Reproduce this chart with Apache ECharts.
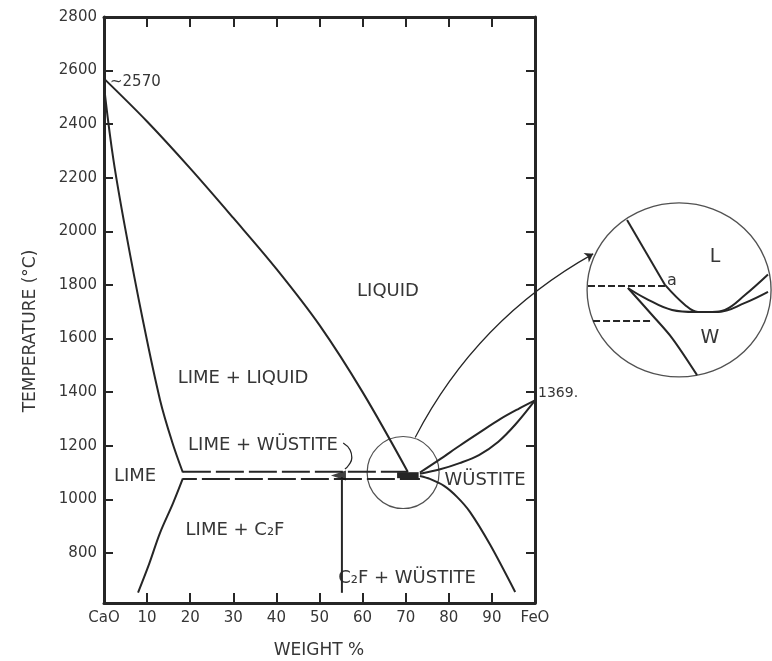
<!DOCTYPE html>
<html><head><meta charset="utf-8">
<script src="https://cdn.jsdelivr.net/npm/echarts@6/dist/echarts.min.js"></script>
<style>html,body{margin:0;padding:0;background:#fff}#c{width:772px;height:661px}</style>
</head><body><div id="c"></div>
<script>
// ---- tick values / labels ----
const xTickValues = [0,10,20,30,40,50,60,70,80,90,100];
const xTickLabels = ['CaO','10','20','30','40','50','60','70','80','90','FeO'];
const yTickValues = [800,1000,1200,1400,1600,1800,2000,2200,2400,2600,2800];
const yTickLabels = ['800','1000','1200','1400','1600','1800','2000','2200','2400','2600','2800'];

// ---- main diagram curves [wt% FeO, T °C] ----
const mainLiquidus = [[0,2570],[10,2410],[20,2235],[30,2050],[40,1860],[50,1650],[60,1400],[70.5,1102]];
const limeLiquidus = [[0,2570],[0.3,2500],[2.2,2266],[4.9,2013],[9.0,1670],[13.0,1371],[15.8,1215],[18.3,1100]];
const limeSolvus = [[18.3,1078],[16,985],[13,875],[10.5,760],[7.9,652]];
const eutecticUpper = [[18.3,1103],[70.5,1103]];
const eutecticLower = [[18.3,1076],[73.3,1076]];
const eutecticSolid = [[68,1090],[73,1090]];
const c2fLine = [[55.2,1082],[55.2,651]];
const c2fPoint = [[54.4,1089]];
const bracket = [[55.5,1210],[57.1,1184],[57.5,1155],[56.8,1128],[55.9,1113]];
const wusLiquidus = [[73.3,1100],[78,1150],[82.5,1200],[87,1248],[92,1300],[96,1336],[100,1369]];
const wusSolidus = [[73.3,1095],[78,1112],[82.5,1135],[87,1165],[91.5,1215],[95.5,1280],[100,1369]];
const wusSolvus = [[73.3,1087],[75.6,1076],[78.9,1050],[81.9,1009],[84.9,953],[89.6,830],[95.4,654]];
const zoomCircleCenter = [[69.4,1100]];
const arrowCoords = [[72.2,1231],[113.5,1916]];

// ---- enlarged inset (schematic units 0..100) ----
const insetCenter = [[50.6,48.9]];
const insetLiqLeft = [[21.7,87.8],[42.8,51.7]];
const insetLiquidus = [[42.8,51.7],[53.9,40.6],[61.1,36.7],[68.9,36.7],[76.1,37.8],[87.2,46.1],[100,57.5]];
const insetSolidus = [[22.2,50],[31.7,44.4],[46.7,37.8],[59.4,36.7],[72.2,36.7],[87.2,41.7],[100,47.8]];
const insetSolvus = [[22.2,50],[35.6,35],[46.7,22.2],[60.6,1.6]];
const insetDashUpper = [[0,51.1],[42.8,51.1]];
const insetDashLower = [[2.8,31.7],[36.1,31.7]];

const FONT = 'DejaVu Sans';
const INK = '#262626';
const TXT = '#363636';

const chart = echarts.init(document.getElementById('c'), null, {renderer:'canvas'});

function lineS(data, opts) {
  opts = opts || {};
  return Object.assign({
    type:'line', data:data, showSymbol:false, symbol:'none', clip:false,
    xAxisIndex:0, yAxisIndex:0, silent:true,
    lineStyle:{color:INK, width:2}
  }, opts);
}

const axisLineStyle = {show:true, onZero:false, lineStyle:{color:INK, width:3}};
const tickStyle = {color:INK, width:2};

function txt(text, x, y, size, align) {
  return {type:'text', x:x, y:y, silent:true,
    style:{text:text, font: size + 'px "' + FONT + '"', fill:TXT, align:align || 'center', verticalAlign:'middle'}};
}

const option = {
  animation:false,
  backgroundColor:'#fff',
  grid:[
    {left:104, right:237, top:17, bottom:58},
    {left:588, top:198, width:180, height:180}
  ],
  xAxis:[
    {type:'value', gridIndex:0, min:0, max:100, position:'bottom',
      axisLine:axisLineStyle, splitLine:{show:false},
      axisTick:{show:true, inside:true, length:10, lineStyle:tickStyle, customValues:xTickValues.slice(1,-1)},
      axisLabel:{show:true, customValues:xTickValues, margin:8, color:TXT, fontFamily:FONT, fontSize:15,
        formatter:function(v){ const i = xTickValues.indexOf(v); return i>=0 ? xTickLabels[i] : ''; }}},
    {type:'value', gridIndex:0, min:0, max:100, position:'top',
      axisLine:axisLineStyle, splitLine:{show:false},
      axisTick:{show:true, inside:true, length:10, lineStyle:tickStyle, customValues:xTickValues.slice(1,-1)},
      axisLabel:{show:false}},
    {type:'value', gridIndex:1, min:0, max:100, show:false}
  ],
  yAxis:[
    {type:'value', gridIndex:0, min:613, max:2800, position:'left',
      axisLine:axisLineStyle, splitLine:{show:false},
      axisTick:{show:true, inside:true, length:9, lineStyle:tickStyle, customValues:yTickValues.slice(0,-1)},
      axisLabel:{show:true, customValues:yTickValues, margin:7, color:TXT, fontFamily:FONT, fontSize:15,
        formatter:function(v){ const i = yTickValues.indexOf(v); return i>=0 ? yTickLabels[i] : ''; }}},
    {type:'value', gridIndex:0, min:613, max:2800, position:'right',
      axisLine:axisLineStyle, splitLine:{show:false},
      axisTick:{show:true, inside:true, length:9, lineStyle:tickStyle, customValues:yTickValues.slice(0,-1)},
      axisLabel:{show:false}},
    {type:'value', gridIndex:1, min:0, max:100, show:false}
  ],
  series:[
    lineS(mainLiquidus, {smooth:0.35}),
    lineS(limeLiquidus, {smooth:0.35}),
    lineS(limeSolvus, {smooth:0.35}),
    lineS(eutecticUpper, {lineStyle:{color:INK, width:2, type:[28,5]}}),
    lineS(eutecticLower, {lineStyle:{color:INK, width:2, type:[28,5], dashOffset:14}}),
    lineS(eutecticSolid, {lineStyle:{color:INK, width:6}}),
    lineS(c2fLine),
    lineS(bracket, {smooth:0.5, lineStyle:{color:INK, width:1.3}}),
    lineS(wusLiquidus, {smooth:0.35}),
    lineS(wusSolidus, {smooth:0.35}),
    lineS(wusSolvus, {smooth:0.3}),
    {type:'scatter', data:c2fPoint, symbol:'triangle', symbolSize:[10,15], symbolRotate:90,
      itemStyle:{color:'#111'}, silent:true, clip:false, z:5},
    {type:'scatter', data:zoomCircleCenter, symbol:'circle', symbolSize:72,
      itemStyle:{color:'rgba(0,0,0,0)', borderColor:INK, borderWidth:1.2}, silent:true, clip:false},
    {type:'lines', coordinateSystem:'cartesian2d', xAxisIndex:0, yAxisIndex:0, clip:false, silent:true,
      symbol:['none','arrow'], symbolSize:8,
      lineStyle:{color:INK, width:1.2, curveness:0.15, opacity:1},
      data:[{coords:arrowCoords}]},
    // inset
    {type:'scatter', xAxisIndex:2, yAxisIndex:2, data:insetCenter, symbol:'circle', symbolSize:[184,174],
      itemStyle:{color:'rgba(0,0,0,0)', borderColor:INK, borderWidth:1.3}, silent:true, clip:false},
    lineS(insetLiqLeft, {xAxisIndex:2, yAxisIndex:2}),
    lineS(insetLiquidus, {xAxisIndex:2, yAxisIndex:2, smooth:0.4}),
    lineS(insetSolidus, {xAxisIndex:2, yAxisIndex:2, smooth:0.4}),
    lineS(insetSolvus, {xAxisIndex:2, yAxisIndex:2, smooth:0.3}),
    lineS(insetDashUpper, {xAxisIndex:2, yAxisIndex:2, lineStyle:{color:INK, width:2, type:[7,3]}}),
    lineS(insetDashLower, {xAxisIndex:2, yAxisIndex:2, lineStyle:{color:INK, width:2, type:[7,3]}})
  ],
  graphic:[
    Object.assign(txt('TEMPERATURE (°C)', 31, 331, 17), {rotation:Math.PI/2}),
    txt('WEIGHT %', 319, 651, 17),
    txt('~2570', 110, 82, 15, 'left'),
    txt('LIQUID', 388, 291, 18),
    txt('LIME + LIQUID', 243, 378, 18),
    txt('LIME + WÜSTITE', 263, 445, 18),
    txt('LIME', 135, 476, 18),
    txt('LIME + C₂F', 235, 530, 18),
    txt('C₂F + WÜSTITE', 407, 578, 18),
    txt('WÜSTITE', 485, 480, 18),
    txt('1369.', 538, 393, 14, 'left'),
    txt('L', 715, 257, 19),
    txt('W', 710, 338, 19),
    txt('a', 672, 281, 16)
  ]
};
chart.setOption(option);
</script></body></html>
